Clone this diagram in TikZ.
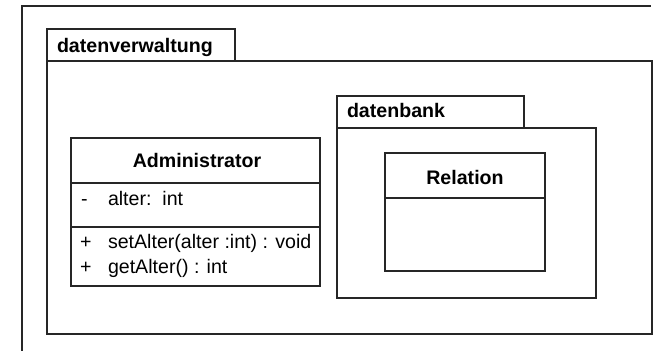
\documentclass[tikz,border=0pt]{standalone}
\usepackage{fontspec}
\setmainfont{Liberation Sans}
\begin{document}
\begin{tikzpicture}[x=1pt,y=-1pt,
  line/.style={draw=black!85,line width=1.1pt},
  box/.style={line,rectangle,anchor=north west,inner sep=0pt,outer sep=0pt},
  txt/.style={inner sep=0pt,outer sep=0pt,font=\fontsize{19.6}{23.5}\selectfont},
  btxt/.style={txt,font=\fontsize{19.6}{23.5}\selectfont\bfseries}]
\useasboundingbox (0,0) rectangle (654,351);
% outer frame (partly visible)
\coordinate (fa) at (22,351);
\coordinate (fb) at (22,6);
\coordinate (fc) at (651,6);
\draw[line] (fa) -- (fb) -- (fc);
% package datenverwaltung
\node[box,minimum width=605,minimum height=273] (dvbody) at (47,61) {};
\node[box,minimum width=188,minimum height=32] (dvtab) at (47,29) {};
\node[btxt,anchor=base west] (dvname) at (57,52) {datenverwaltung};
% class Administrator
\node[box,minimum width=249,minimum height=45] (adname) at (71,138) {};
\node[box,minimum width=249,minimum height=44] (adattr) at (71,183) {};
\node[box,minimum width=249,minimum height=59] (adops) at (71,227) {};
\node[btxt,anchor=base] (adtitle) at (197,167) {Administrator};
\node[txt,anchor=base west] (a1s) at (81,205) {-};
\node[txt,anchor=base west] (a1) at (108,205) {alter:\ \ int};
\node[txt,anchor=base west] (o1s) at (80,248) {+};
\node[txt,anchor=base west] (o1) at (108,248) {setAlter(alter :int) : void};
\node[txt,anchor=base west] (o2s) at (80,273) {+};
\node[txt,anchor=base west] (o2) at (108,273) {getAlter() : int};
% package datenbank
\node[box,minimum width=259,minimum height=170] (dbbody) at (337,128) {};
\node[box,minimum width=187,minimum height=32] (dbtab) at (337,96) {};
\node[btxt,anchor=base west] (dbname) at (347,117) {datenbank};
% class Relation
\node[box,minimum width=160,minimum height=45] (relname) at (385,153) {};
\node[box,minimum width=160,minimum height=73] (relbody) at (385,198) {};
\node[btxt,anchor=base] (reltitle) at (465,184) {Relation};
\end{tikzpicture}
\end{document}
